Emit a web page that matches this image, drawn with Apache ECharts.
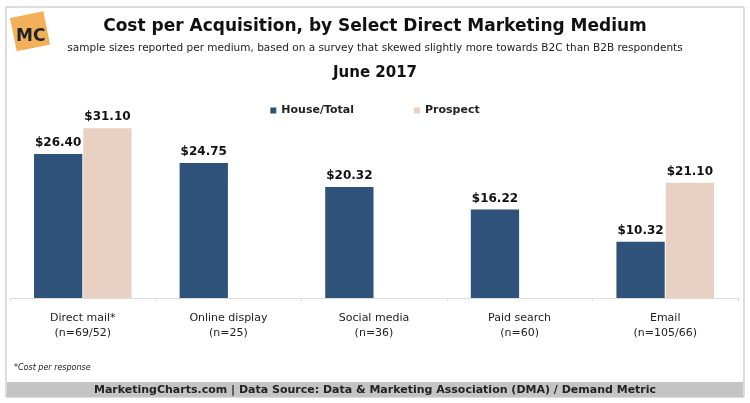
<!DOCTYPE html>
<html><head><meta charset="utf-8">
<script src="https://cdn.jsdelivr.net/npm/echarts@6/dist/echarts.min.js"></script>
<style>html,body{margin:0;padding:0;background:#fff}#c{width:750px;height:403px}</style>
</head><body><div id="c"></div>
<script>
const categories = ['Direct mail*\n(n=69/52)','Online display\n(n=25)','Social media\n(n=36)','Paid search\n(n=60)','Email\n(n=105/66)'];
const house = [26.40, 24.75, 20.32, 16.22, 10.32];
const prospect = [31.10, null, null, null, 21.10];
const F = 'Verdana, "DejaVu Sans", sans-serif';
const chart = echarts.init(document.getElementById('c'));
const lbl = {show:true, position:'top', fontFamily:F, fontWeight:'bold', fontSize:12, color:'#111', formatter:p=>'$'+p.value.toFixed(2)};
chart.setOption({
  animation:false,
  graphic:[
    {type:'rect', shape:{x:6,y:7,width:738,height:390}, style:{fill:'none', stroke:'#bbb', lineWidth:1}},
    {type:'rect', shape:{x:7,y:382,width:736,height:15}, style:{fill:'#c4c4c4'}},
    {type:'text', x:375, y:390, style:{text:'MarketingCharts.com | Data Source: Data & Marketing Association (DMA) / Demand Metric', font:'bold 11px '+F, fill:'#222', align:'center', verticalAlign:'middle'}},
    {type:'text', x:14, y:368, style:{text:'*Cost per response', font:'italic 8px '+F, fill:'#222', verticalAlign:'middle'}},
    {type:'text', x:375, y:73, style:{text:'June 2017', font:'bold 15px '+F, fill:'#111', align:'center', verticalAlign:'middle'}},
    {type:'rect', rotation:0.2, x:10, y:18, shape:{x:0,y:0,width:34,height:34}, style:{fill:'#f3b05a'}},
    {type:'text', x:16, y:37, style:{text:'MC', font:'bold 17px '+F, fill:'#222', verticalAlign:'middle'}}
  ],
  title:{text:'Cost per Acquisition, by Select Direct Marketing Medium',
    subtext:'sample sizes reported per medium, based on a survey that skewed slightly more towards B2C than B2B respondents',
    left:'center', top:13, itemGap:8,
    textStyle:{fontFamily:F, fontWeight:'bold', fontSize:17, color:'#111'},
    subtextStyle:{fontFamily:F, fontSize:10.5, color:'#222'}},
  legend:{top:100, left:'center', itemGap:60, itemWidth:6, itemHeight:6, icon:'rect',
    textStyle:{fontFamily:F, fontWeight:'bold', fontSize:11, color:'#222'}},
  grid:{left:10, right:12, top:107, height:191, containLabel:false},
  xAxis:{type:'category', data:categories,
    axisLine:{lineStyle:{color:'#ddd'}}, axisTick:{show:true, length:3, lineStyle:{color:'#ddd'}},
    axisLabel:{fontFamily:F, fontSize:11, color:'#222', lineHeight:15, margin:13}},
  yAxis:{type:'value', min:0, max:35, show:false, splitLine:{show:false}},
  series:[
    {name:'House/Total', type:'bar', data:house, itemStyle:{color:'#2e5279'}, barGap:'2%', barCategoryGap:'33%', label:lbl},
    {name:'Prospect', type:'bar', data:prospect, itemStyle:{color:'#e8d0c2'}, label:lbl}
  ]
});
</script></body></html>
